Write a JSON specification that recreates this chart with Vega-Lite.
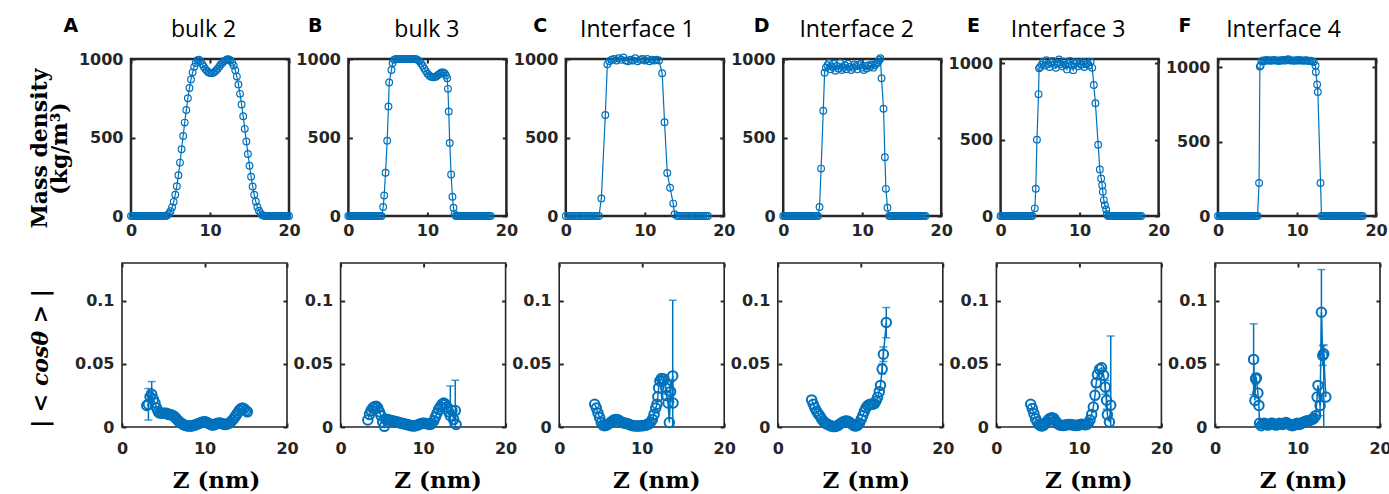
{
"$schema": "https://vega.github.io/schema/vega-lite/v6.json",
"padding": {"left": 26, "top": 14, "right": 0, "bottom": 0},
"datasets": {
"tA": [{"z":0,"v":0},{"z":0.2,"v":0},{"z":0.4,"v":0},{"z":0.6,"v":0},{"z":0.8,"v":0},{"z":1,"v":0},{"z":1.2,"v":0},{"z":1.4,"v":0},{"z":1.6,"v":0},{"z":1.8,"v":0},{"z":2,"v":0},{"z":2.2,"v":0},{"z":2.4,"v":0},{"z":2.6,"v":0},{"z":2.8,"v":0},{"z":3,"v":0},{"z":3.2,"v":0},{"z":3.4,"v":0},{"z":3.6,"v":0},{"z":3.8,"v":0},{"z":4,"v":0},{"z":4.2,"v":0},{"z":4.4,"v":0},{"z":4.6,"v":5},{"z":4.8,"v":15},{"z":5,"v":30},{"z":5.2,"v":55},{"z":5.4,"v":90},{"z":5.6,"v":135},{"z":5.8,"v":190},{"z":6,"v":260},{"z":6.2,"v":340},{"z":6.4,"v":425},{"z":6.6,"v":510},{"z":6.8,"v":595},{"z":7,"v":675},{"z":7.2,"v":750},{"z":7.4,"v":815},{"z":7.6,"v":870},{"z":7.8,"v":915},{"z":8,"v":950},{"z":8.2,"v":975},{"z":8.4,"v":992},{"z":8.6,"v":995},{"z":8.8,"v":985},{"z":9,"v":968},{"z":9.2,"v":952},{"z":9.4,"v":937},{"z":9.6,"v":925},{"z":9.8,"v":916},{"z":10,"v":911},{"z":10.2,"v":910},{"z":10.4,"v":912},{"z":10.6,"v":918},{"z":10.8,"v":928},{"z":11,"v":940},{"z":11.2,"v":954},{"z":11.4,"v":967},{"z":11.6,"v":978},{"z":11.8,"v":987},{"z":12,"v":993},{"z":12.2,"v":998},{"z":12.4,"v":997},{"z":12.6,"v":990},{"z":12.8,"v":978},{"z":13,"v":958},{"z":13.2,"v":928},{"z":13.4,"v":888},{"z":13.6,"v":838},{"z":13.8,"v":778},{"z":14,"v":710},{"z":14.2,"v":635},{"z":14.4,"v":555},{"z":14.6,"v":475},{"z":14.8,"v":395},{"z":15,"v":320},{"z":15.2,"v":250},{"z":15.4,"v":188},{"z":15.6,"v":135},{"z":15.8,"v":92},{"z":16,"v":58},{"z":16.2,"v":33},{"z":16.4,"v":17},{"z":16.6,"v":7},{"z":16.8,"v":2},{"z":17,"v":0},{"z":17.2,"v":0},{"z":17.4,"v":0},{"z":17.6,"v":0},{"z":17.8,"v":0},{"z":18,"v":0},{"z":18.2,"v":0},{"z":18.4,"v":0},{"z":18.6,"v":0},{"z":18.8,"v":0},{"z":19,"v":0},{"z":19.2,"v":0},{"z":19.4,"v":0},{"z":19.6,"v":0},{"z":19.8,"v":0},{"z":20,"v":0}],
"tB": [{"z":0,"v":0},{"z":0.2,"v":0},{"z":0.4,"v":0},{"z":0.6,"v":0},{"z":0.8,"v":0},{"z":1,"v":0},{"z":1.2,"v":0},{"z":1.4,"v":0},{"z":1.6,"v":0},{"z":1.8,"v":0},{"z":2,"v":0},{"z":2.2,"v":0},{"z":2.4,"v":0},{"z":2.6,"v":0},{"z":2.8,"v":0},{"z":3,"v":0},{"z":3.2,"v":0},{"z":3.4,"v":0},{"z":3.6,"v":0},{"z":3.8,"v":0},{"z":4,"v":0},{"z":4.2,"v":0},{"z":4.4,"v":57},{"z":4.53,"v":131},{"z":4.7,"v":275},{"z":4.91,"v":480},{"z":5.07,"v":698},{"z":5.16,"v":850},{"z":5.45,"v":930},{"z":5.6,"v":975},{"z":5.8,"v":995},{"z":6,"v":1000},{"z":6.2,"v":1000},{"z":6.4,"v":1000},{"z":6.6,"v":1000},{"z":6.8,"v":1000},{"z":7,"v":1000},{"z":7.2,"v":1000},{"z":7.4,"v":1000},{"z":7.6,"v":1000},{"z":7.8,"v":1000},{"z":8,"v":1000},{"z":8.2,"v":1000},{"z":8.4,"v":1000},{"z":8.6,"v":998},{"z":8.8,"v":993},{"z":9,"v":985},{"z":9.2,"v":972},{"z":9.4,"v":957},{"z":9.6,"v":940},{"z":9.8,"v":923},{"z":10,"v":908},{"z":10.2,"v":897},{"z":10.4,"v":889},{"z":10.6,"v":885},{"z":10.8,"v":884},{"z":11,"v":886},{"z":11.2,"v":892},{"z":11.4,"v":900},{"z":11.6,"v":908},{"z":11.8,"v":914},{"z":12,"v":915},{"z":12.2,"v":908},{"z":12.35,"v":895},{"z":12.5,"v":877},{"z":12.6,"v":810},{"z":12.7,"v":666},{"z":12.83,"v":465},{"z":13,"v":264},{"z":13.17,"v":123},{"z":13.3,"v":53},{"z":13.45,"v":12},{"z":13.6,"v":0},{"z":13.8,"v":0},{"z":14,"v":0},{"z":14.2,"v":0},{"z":14.4,"v":0},{"z":14.6,"v":0},{"z":14.8,"v":0},{"z":15,"v":0},{"z":15.2,"v":0},{"z":15.4,"v":0},{"z":15.6,"v":0},{"z":15.8,"v":0},{"z":16,"v":0},{"z":16.2,"v":0},{"z":16.4,"v":0},{"z":16.6,"v":0},{"z":16.8,"v":0},{"z":17,"v":0},{"z":17.2,"v":0},{"z":17.4,"v":0},{"z":17.6,"v":0},{"z":17.8,"v":0},{"z":18,"v":0}],
"tC": [{"z":0,"v":0},{"z":0.3,"v":0},{"z":0.6,"v":0},{"z":0.9,"v":0},{"z":1.2,"v":0},{"z":1.5,"v":0},{"z":1.8,"v":0},{"z":2.1,"v":0},{"z":2.4,"v":0},{"z":2.7,"v":0},{"z":3,"v":0},{"z":3.3,"v":0},{"z":3.6,"v":0},{"z":3.9,"v":0},{"z":4.2,"v":0},{"z":4.5,"v":112},{"z":5,"v":643},{"z":5.26,"v":966},{"z":5.5,"v":985},{"z":5.8,"v":995},{"z":6.1,"v":1000},{"z":6.4,"v":990},{"z":6.7,"v":1005},{"z":7,"v":995},{"z":7.3,"v":1010},{"z":7.6,"v":990},{"z":7.9,"v":985},{"z":8.2,"v":995},{"z":8.5,"v":990},{"z":8.8,"v":1005},{"z":9.1,"v":985},{"z":9.4,"v":995},{"z":9.7,"v":1000},{"z":10,"v":990},{"z":10.3,"v":1000},{"z":10.6,"v":985},{"z":10.9,"v":995},{"z":11.2,"v":990},{"z":11.5,"v":995},{"z":11.8,"v":990},{"z":12.2,"v":909},{"z":12.5,"v":597},{"z":12.84,"v":274},{"z":13.2,"v":180},{"z":13.6,"v":79},{"z":13.77,"v":11},{"z":14.1,"v":0},{"z":14.4,"v":0},{"z":14.7,"v":0},{"z":15,"v":0},{"z":15.3,"v":0},{"z":15.6,"v":0},{"z":15.9,"v":0},{"z":16.2,"v":0},{"z":16.5,"v":0},{"z":16.8,"v":0},{"z":17.1,"v":0},{"z":17.4,"v":0},{"z":17.7,"v":0},{"z":18,"v":0}],
"tD": [{"z":0,"v":0},{"z":0.2,"v":0},{"z":0.4,"v":0},{"z":0.6,"v":0},{"z":0.8,"v":0},{"z":1,"v":0},{"z":1.2,"v":0},{"z":1.4,"v":0},{"z":1.6,"v":0},{"z":1.8,"v":0},{"z":2,"v":0},{"z":2.2,"v":0},{"z":2.4,"v":0},{"z":2.6,"v":0},{"z":2.8,"v":0},{"z":3,"v":0},{"z":3.2,"v":0},{"z":3.4,"v":0},{"z":3.6,"v":0},{"z":3.8,"v":0},{"z":4,"v":0},{"z":4.2,"v":0},{"z":4.4,"v":0},{"z":4.6,"v":57},{"z":4.8,"v":302},{"z":5.07,"v":670},{"z":5.24,"v":913},{"z":5.4,"v":945},{"z":5.6,"v":960},{"z":5.8,"v":975},{"z":6,"v":935},{"z":6.2,"v":950},{"z":6.4,"v":970},{"z":6.6,"v":925},{"z":6.8,"v":955},{"z":7,"v":940},{"z":7.2,"v":975},{"z":7.4,"v":930},{"z":7.6,"v":945},{"z":7.8,"v":960},{"z":8,"v":935},{"z":8.2,"v":970},{"z":8.4,"v":950},{"z":8.6,"v":930},{"z":8.8,"v":945},{"z":9,"v":965},{"z":9.2,"v":955},{"z":9.4,"v":935},{"z":9.6,"v":960},{"z":9.8,"v":970},{"z":10,"v":945},{"z":10.2,"v":930},{"z":10.4,"v":955},{"z":10.6,"v":940},{"z":10.8,"v":960},{"z":11,"v":950},{"z":11.2,"v":965},{"z":11.4,"v":945},{"z":11.6,"v":960},{"z":11.8,"v":970},{"z":12,"v":980},{"z":12.2,"v":995},{"z":12.3,"v":1005},{"z":12.45,"v":877},{"z":12.7,"v":683},{"z":12.87,"v":374},{"z":13,"v":173},{"z":13.2,"v":53},{"z":13.4,"v":0},{"z":13.6,"v":0},{"z":13.8,"v":0},{"z":14,"v":0},{"z":14.2,"v":0},{"z":14.4,"v":0},{"z":14.6,"v":0},{"z":14.8,"v":0},{"z":15,"v":0},{"z":15.2,"v":0},{"z":15.4,"v":0},{"z":15.6,"v":0},{"z":15.8,"v":0},{"z":16,"v":0},{"z":16.2,"v":0},{"z":16.4,"v":0},{"z":16.6,"v":0},{"z":16.8,"v":0},{"z":17,"v":0},{"z":17.2,"v":0},{"z":17.4,"v":0},{"z":17.6,"v":0},{"z":17.8,"v":0},{"z":18,"v":0}],
"tE": [{"z":0,"v":0},{"z":0.2,"v":0},{"z":0.4,"v":0},{"z":0.6,"v":0},{"z":0.8,"v":0},{"z":1,"v":0},{"z":1.2,"v":0},{"z":1.4,"v":0},{"z":1.6,"v":0},{"z":1.8,"v":0},{"z":2,"v":0},{"z":2.2,"v":0},{"z":2.4,"v":0},{"z":2.6,"v":0},{"z":2.8,"v":0},{"z":3,"v":0},{"z":3.2,"v":0},{"z":3.4,"v":0},{"z":3.6,"v":0},{"z":3.8,"v":0},{"z":4,"v":0},{"z":4.33,"v":50},{"z":4.45,"v":178},{"z":4.6,"v":500},{"z":4.8,"v":798},{"z":4.87,"v":967},{"z":5,"v":975},{"z":5.2,"v":990},{"z":5.4,"v":1010},{"z":5.6,"v":985},{"z":5.8,"v":1020},{"z":6,"v":995},{"z":6.2,"v":975},{"z":6.4,"v":1005},{"z":6.6,"v":1015},{"z":6.8,"v":990},{"z":7,"v":970},{"z":7.2,"v":1000},{"z":7.4,"v":1025},{"z":7.6,"v":995},{"z":7.8,"v":980},{"z":8,"v":1010},{"z":8.2,"v":990},{"z":8.4,"v":960},{"z":8.6,"v":1000},{"z":8.8,"v":1015},{"z":9,"v":985},{"z":9.2,"v":955},{"z":9.4,"v":995},{"z":9.6,"v":1005},{"z":9.8,"v":980},{"z":10,"v":1000},{"z":10.2,"v":990},{"z":10.4,"v":1010},{"z":10.6,"v":975},{"z":10.8,"v":995},{"z":11,"v":1000},{"z":11.2,"v":985},{"z":11.4,"v":1010},{"z":11.6,"v":970},{"z":11.8,"v":858},{"z":12,"v":739},{"z":12.35,"v":467},{"z":12.56,"v":304},{"z":12.73,"v":246},{"z":12.86,"v":202},{"z":12.94,"v":159},{"z":13.07,"v":104},{"z":13.2,"v":70},{"z":13.36,"v":43},{"z":13.45,"v":11},{"z":13.6,"v":0},{"z":13.8,"v":0},{"z":14,"v":0},{"z":14.2,"v":0},{"z":14.4,"v":0},{"z":14.6,"v":0},{"z":14.8,"v":0},{"z":15,"v":0},{"z":15.2,"v":0},{"z":15.4,"v":0},{"z":15.6,"v":0},{"z":15.8,"v":0},{"z":16,"v":0},{"z":16.2,"v":0},{"z":16.4,"v":0},{"z":16.6,"v":0},{"z":16.8,"v":0},{"z":17,"v":0},{"z":17.2,"v":0},{"z":17.4,"v":0},{"z":17.6,"v":0},{"z":17.8,"v":0}],
"tF": [{"z":0,"v":0},{"z":0.2,"v":0},{"z":0.4,"v":0},{"z":0.6,"v":0},{"z":0.8,"v":0},{"z":1,"v":0},{"z":1.2,"v":0},{"z":1.4,"v":0},{"z":1.6,"v":0},{"z":1.8,"v":0},{"z":2,"v":0},{"z":2.2,"v":0},{"z":2.4,"v":0},{"z":2.6,"v":0},{"z":2.8,"v":0},{"z":3,"v":0},{"z":3.2,"v":0},{"z":3.4,"v":0},{"z":3.6,"v":0},{"z":3.8,"v":0},{"z":4,"v":0},{"z":4.2,"v":0},{"z":4.4,"v":0},{"z":4.6,"v":0},{"z":4.8,"v":0},{"z":5,"v":0},{"z":5.2,"v":222},{"z":5.3,"v":1004},{"z":5.4,"v":1011},{"z":5.5,"v":1040},{"z":5.7,"v":1046},{"z":5.9,"v":1042},{"z":6.1,"v":1048},{"z":6.3,"v":1044},{"z":6.5,"v":1047},{"z":6.7,"v":1043},{"z":6.9,"v":1046},{"z":7.1,"v":1049},{"z":7.3,"v":1044},{"z":7.5,"v":1046},{"z":7.7,"v":1042},{"z":7.9,"v":1047},{"z":8.1,"v":1045},{"z":8.3,"v":1048},{"z":8.5,"v":1044},{"z":8.7,"v":1050},{"z":8.9,"v":1053},{"z":9.1,"v":1047},{"z":9.3,"v":1044},{"z":9.5,"v":1046},{"z":9.7,"v":1043},{"z":9.9,"v":1047},{"z":10.1,"v":1045},{"z":10.3,"v":1048},{"z":10.5,"v":1044},{"z":10.7,"v":1046},{"z":10.9,"v":1043},{"z":11.1,"v":1047},{"z":11.3,"v":1045},{"z":11.5,"v":1042},{"z":11.7,"v":1044},{"z":11.9,"v":1040},{"z":12.1,"v":1035},{"z":12.34,"v":1011},{"z":12.38,"v":967},{"z":12.55,"v":884},{"z":12.64,"v":833},{"z":12.98,"v":222},{"z":13.1,"v":0},{"z":13.3,"v":0},{"z":13.5,"v":0},{"z":13.7,"v":0},{"z":13.9,"v":0},{"z":14.1,"v":0},{"z":14.3,"v":0},{"z":14.5,"v":0},{"z":14.7,"v":0},{"z":14.9,"v":0},{"z":15.1,"v":0},{"z":15.3,"v":0},{"z":15.5,"v":0},{"z":15.7,"v":0},{"z":15.9,"v":0},{"z":16.1,"v":0},{"z":16.3,"v":0},{"z":16.5,"v":0},{"z":16.7,"v":0},{"z":16.9,"v":0},{"z":17.1,"v":0},{"z":17.3,"v":0},{"z":17.5,"v":0},{"z":17.7,"v":0},{"z":17.9,"v":0},{"z":18.1,"v":0},{"z":18.3,"v":0}],
"cA": [{"z":3,"c":0.017},{"z":3.2,"c":0.018},{"z":3.4,"c":0.024},{"z":3.6,"c":0.026},{"z":3.8,"c":0.022},{"z":4,"c":0.019},{"z":4.2,"c":0.015},{"z":4.4,"c":0.012},{"z":4.6,"c":0.011},{"z":4.8,"c":0.011},{"z":5,"c":0.011},{"z":5.2,"c":0.011},{"z":5.4,"c":0.011},{"z":5.6,"c":0.01},{"z":5.8,"c":0.01},{"z":6,"c":0.0095},{"z":6.2,"c":0.009},{"z":6.4,"c":0.008},{"z":6.6,"c":0.0065},{"z":6.8,"c":0.005},{"z":7,"c":0.004},{"z":7.2,"c":0.003},{"z":7.4,"c":0.002},{"z":7.6,"c":0.0015},{"z":7.8,"c":0.001},{"z":8,"c":0.0008},{"z":8.2,"c":0.0007},{"z":8.4,"c":0.0008},{"z":8.6,"c":0.001},{"z":8.8,"c":0.0015},{"z":9,"c":0.002},{"z":9.2,"c":0.0025},{"z":9.4,"c":0.003},{"z":9.6,"c":0.0035},{"z":9.8,"c":0.004},{"z":10,"c":0.0042},{"z":10.2,"c":0.004},{"z":10.4,"c":0.0032},{"z":10.6,"c":0.0025},{"z":10.8,"c":0.0018},{"z":11,"c":0.0015},{"z":11.2,"c":0.0018},{"z":11.4,"c":0.0025},{"z":11.6,"c":0.003},{"z":11.8,"c":0.0032},{"z":12,"c":0.003},{"z":12.2,"c":0.0025},{"z":12.4,"c":0.002},{"z":12.6,"c":0.002},{"z":12.8,"c":0.0025},{"z":13,"c":0.003},{"z":13.2,"c":0.004},{"z":13.4,"c":0.0055},{"z":13.6,"c":0.007},{"z":13.8,"c":0.009},{"z":14,"c":0.011},{"z":14.2,"c":0.013},{"z":14.4,"c":0.0145},{"z":14.6,"c":0.015},{"z":14.8,"c":0.0145},{"z":15,"c":0.013},{"z":15.2,"c":0.012}],
"eA": [{"z":3.2,"lo":0.0055,"hi":0.0305},{"z":3.4,"lo":0.02,"hi":0.028},{"z":3.6,"lo":0.016,"hi":0.036}],
"cB": [{"z":3.3,"c":0.0055},{"z":3.5,"c":0.01},{"z":3.7,"c":0.013},{"z":3.9,"c":0.015},{"z":4.1,"c":0.016},{"z":4.3,"c":0.0165},{"z":4.5,"c":0.015},{"z":4.7,"c":0.012},{"z":4.9,"c":0.009},{"z":5.1,"c":0.004},{"z":5.3,"c":0.0005},{"z":5.5,"c":0.006},{"z":5.7,"c":0.006},{"z":5.9,"c":0.0055},{"z":6.1,"c":0.005},{"z":6.3,"c":0.005},{"z":6.5,"c":0.0045},{"z":6.7,"c":0.004},{"z":6.9,"c":0.004},{"z":7.1,"c":0.0035},{"z":7.3,"c":0.003},{"z":7.5,"c":0.003},{"z":7.7,"c":0.0025},{"z":7.9,"c":0.002},{"z":8.1,"c":0.002},{"z":8.3,"c":0.0015},{"z":8.5,"c":0.001},{"z":8.7,"c":0.001},{"z":8.9,"c":0.0008},{"z":9.1,"c":0.001},{"z":9.3,"c":0.0015},{"z":9.5,"c":0.002},{"z":9.7,"c":0.0025},{"z":9.9,"c":0.003},{"z":10.1,"c":0.003},{"z":10.3,"c":0.0028},{"z":10.5,"c":0.0025},{"z":10.7,"c":0.0022},{"z":10.9,"c":0.002},{"z":11.1,"c":0.003},{"z":11.3,"c":0.005},{"z":11.5,"c":0.008},{"z":11.7,"c":0.011},{"z":11.9,"c":0.014},{"z":12.1,"c":0.016},{"z":12.3,"c":0.018},{"z":12.5,"c":0.019},{"z":12.7,"c":0.018},{"z":12.9,"c":0.016},{"z":13.1,"c":0.012},{"z":13.3,"c":0.009},{"z":13.5,"c":0.013},{"z":13.7,"c":0.006},{"z":13.9,"c":0.013},{"z":14,"c":0.002}],
"eB": [{"z":13.3,"lo":-0.0145,"hi":0.0325},{"z":13.9,"lo":-0.011,"hi":0.037}],
"cC": [{"z":4.3,"c":0.018},{"z":4.5,"c":0.015},{"z":4.7,"c":0.011},{"z":4.9,"c":0.0075},{"z":5.1,"c":0.0035},{"z":5.3,"c":0.0015},{"z":5.5,"c":0.001},{"z":5.7,"c":0.0015},{"z":5.9,"c":0.002},{"z":6.1,"c":0.003},{"z":6.3,"c":0.004},{"z":6.5,"c":0.005},{"z":6.7,"c":0.0058},{"z":6.9,"c":0.006},{"z":7.1,"c":0.0058},{"z":7.3,"c":0.005},{"z":7.5,"c":0.004},{"z":7.7,"c":0.0035},{"z":7.9,"c":0.003},{"z":8.1,"c":0.003},{"z":8.3,"c":0.0025},{"z":8.5,"c":0.002},{"z":8.7,"c":0.0015},{"z":8.9,"c":0.001},{"z":9.1,"c":0.001},{"z":9.3,"c":0.0008},{"z":9.5,"c":0.0008},{"z":9.7,"c":0.0008},{"z":9.9,"c":0.001},{"z":10.1,"c":0.001},{"z":10.3,"c":0.0012},{"z":10.5,"c":0.0015},{"z":10.7,"c":0.002},{"z":10.9,"c":0.0025},{"z":11.1,"c":0.004},{"z":11.3,"c":0.006},{"z":11.5,"c":0.01},{"z":11.7,"c":0.015},{"z":11.85,"c":0.018},{"z":11.95,"c":0.024},{"z":12.05,"c":0.031},{"z":12.2,"c":0.0365},{"z":12.4,"c":0.0385},{"z":12.55,"c":0.0365},{"z":12.7,"c":0.038},{"z":12.9,"c":0.031},{"z":13,"c":0.025},{"z":13.2,"c":0.019},{"z":13.35,"c":0.0035},{"z":13.5,"c":0.028},{"z":13.76,"c":0.0405},{"z":13.8,"c":0.019}],
"eC": [{"z":12.9,"lo":0.026,"hi":0.036},{"z":13.5,"lo":0.02,"hi":0.036},{"z":13.76,"lo":-0.0195,"hi":0.1005}],
"cD": [{"z":4.1,"c":0.0215},{"z":4.3,"c":0.018},{"z":4.5,"c":0.015},{"z":4.7,"c":0.0125},{"z":4.9,"c":0.0105},{"z":5.1,"c":0.0087},{"z":5.3,"c":0.0065},{"z":5.5,"c":0.0048},{"z":5.7,"c":0.0035},{"z":5.9,"c":0.0025},{"z":6.1,"c":0.002},{"z":6.3,"c":0.0012},{"z":6.5,"c":0.0007},{"z":6.7,"c":0.0004},{"z":6.9,"c":0.0003},{"z":7.1,"c":0.0006},{"z":7.3,"c":0.0013},{"z":7.5,"c":0.0022},{"z":7.7,"c":0.0032},{"z":7.9,"c":0.004},{"z":8.1,"c":0.0046},{"z":8.3,"c":0.0048},{"z":8.5,"c":0.0045},{"z":8.7,"c":0.0038},{"z":8.9,"c":0.0028},{"z":9.1,"c":0.0017},{"z":9.3,"c":0.0009},{"z":9.5,"c":0.0008},{"z":9.7,"c":0.0015},{"z":9.9,"c":0.003},{"z":10.1,"c":0.006},{"z":10.3,"c":0.009},{"z":10.5,"c":0.0125},{"z":10.7,"c":0.0153},{"z":10.9,"c":0.017},{"z":11.1,"c":0.0178},{"z":11.3,"c":0.018},{"z":11.5,"c":0.018},{"z":11.7,"c":0.0185},{"z":11.9,"c":0.0205},{"z":12.1,"c":0.0235},{"z":12.3,"c":0.028},{"z":12.45,"c":0.033},{"z":12.65,"c":0.046},{"z":12.8,"c":0.0577},{"z":13.15,"c":0.0828}],
"eD": [{"z":12.65,"lo":0.042,"hi":0.05},{"z":12.8,"lo":0.052,"hi":0.0634},{"z":13.15,"lo":0.0708,"hi":0.0948}],
"cE": [{"z":4.15,"c":0.018},{"z":4.35,"c":0.0146},{"z":4.55,"c":0.0106},{"z":4.75,"c":0.0066},{"z":4.95,"c":0.004},{"z":5.15,"c":0.002},{"z":5.35,"c":0.001},{"z":5.55,"c":0.0008},{"z":5.75,"c":0.0015},{"z":5.95,"c":0.003},{"z":6.15,"c":0.0045},{"z":6.35,"c":0.006},{"z":6.55,"c":0.007},{"z":6.75,"c":0.0074},{"z":6.95,"c":0.0068},{"z":7.15,"c":0.005},{"z":7.35,"c":0.003},{"z":7.55,"c":0.002},{"z":7.75,"c":0.0015},{"z":7.95,"c":0.0012},{"z":8.15,"c":0.0012},{"z":8.35,"c":0.0015},{"z":8.55,"c":0.0018},{"z":8.75,"c":0.002},{"z":8.95,"c":0.002},{"z":9.15,"c":0.0018},{"z":9.35,"c":0.0015},{"z":9.55,"c":0.0012},{"z":9.75,"c":0.0012},{"z":9.95,"c":0.0015},{"z":10.15,"c":0.002},{"z":10.35,"c":0.0022},{"z":10.55,"c":0.002},{"z":10.75,"c":0.0018},{"z":10.95,"c":0.002},{"z":11.15,"c":0.003},{"z":11.35,"c":0.0055},{"z":11.55,"c":0.01},{"z":11.75,"c":0.0159},{"z":11.95,"c":0.0251},{"z":12.1,"c":0.035},{"z":12.25,"c":0.0415},{"z":12.5,"c":0.0458},{"z":12.75,"c":0.047},{"z":13,"c":0.041},{"z":13.2,"c":0.0317},{"z":13.35,"c":0.0212},{"z":13.45,"c":0.0098},{"z":13.7,"c":0.004},{"z":13.86,"c":0.0172}],
"eE": [{"z":13.2,"lo":0.026,"hi":0.037},{"z":13.35,"lo":0.014,"hi":0.028},{"z":13.86,"lo":-0.038,"hi":0.0722}],
"cF": [{"z":4.68,"c":0.0536},{"z":4.84,"c":0.021},{"z":4.92,"c":0.0383},{"z":5.02,"c":0.0388},{"z":5.2,"c":0.027},{"z":5.32,"c":0.0171},{"z":5.4,"c":0.003},{"z":5.6,"c":0.001},{"z":5.8,"c":0.0025},{"z":6,"c":0.003},{"z":6.2,"c":0.002},{"z":6.4,"c":0.0015},{"z":6.6,"c":0.002},{"z":6.8,"c":0.003},{"z":7,"c":0.003},{"z":7.2,"c":0.002},{"z":7.4,"c":0.0015},{"z":7.6,"c":0.002},{"z":7.8,"c":0.003},{"z":8,"c":0.0025},{"z":8.2,"c":0.002},{"z":8.4,"c":0.003},{"z":8.6,"c":0.0035},{"z":8.8,"c":0.003},{"z":9,"c":0.002},{"z":9.2,"c":0.0015},{"z":9.4,"c":0.001},{"z":9.6,"c":0.0015},{"z":9.8,"c":0.0025},{"z":10,"c":0.003},{"z":10.2,"c":0.002},{"z":10.4,"c":0.0025},{"z":10.6,"c":0.0035},{"z":10.8,"c":0.004},{"z":11,"c":0.0045},{"z":11.2,"c":0.005},{"z":11.4,"c":0.005},{"z":11.6,"c":0.0055},{"z":11.8,"c":0.006},{"z":12,"c":0.007},{"z":12.2,"c":0.009},{"z":12.38,"c":0.0237},{"z":12.48,"c":0.033},{"z":12.74,"c":0.017},{"z":12.9,"c":0.091},{"z":13.06,"c":0.0567},{"z":13.18,"c":0.058},{"z":13.43,"c":0.0237}],
"eF": [{"z":4.68,"lo":0.0256,"hi":0.0818},{"z":4.92,"lo":0.0343,"hi":0.0423},{"z":12.74,"lo":0.009,"hi":0.025},{"z":12.9,"lo":0.057,"hi":0.1248},{"z":13.06,"lo":0.0488,"hi":0.0646},{"z":13.18,"lo":-0.01,"hi":0.065}]
},
"columns": 1,
"align": "none",
"spacing": 21,
"concat": [
{"hconcat": [
 {"width": 1, "height": 1, "view": {"stroke": null}, "data": {"values": [{"z": 0}]}, "mark": {"type": "point", "opacity": 0}, "encoding": {}},
 {"hconcat": [
 {"width": 158, "height": 157, "view": {"strokeWidth": 2.5}, "data": {"name": "tA"},
  "layer": [
   {"mark": {"type": "line", "color": "#0072BD", "strokeWidth": 1.2},
    "encoding": {"x": {"field": "z", "type": "quantitative", "scale": {"domain": [0, 20], "nice": false, "zero": false}, "axis": {"orient": "bottom", "values": [0, 10, 20], "title": null, "labelPadding": 10}},
                 "y": {"field": "v", "type": "quantitative", "scale": {"domain": [0, 1000], "nice": false}, "axis": {"orient": "left", "values": [0, 500, 1000], "format": "d", "labelPadding": 12, "title": ["Mass density", "(kg/m³)"], "titleFont": "DejaVu Serif", "titleFontSize": 22, "titleFontWeight": "bold", "titleAngle": -90, "titleX": -85, "titleY": 89, "titleAlign": "center", "titleBaseline": "alphabetic", "titleLineHeight": 20}}}},
   {"mark": {"type": "point", "shape": "circle", "filled": false, "color": "#0072BD", "size": 45, "strokeWidth": 1.2, "opacity": 1},
    "encoding": {"x": {"field": "z", "type": "quantitative", "axis": {"orient": "top", "values": [0, 10, 20], "labels": false, "title": "bulk 2", "titleX": 72}},
                 "y": {"field": "v", "type": "quantitative", "axis": {"orient": "right", "values": [0, 500, 1000], "labels": false, "title": "A", "titleFont": "DejaVu Sans", "titleFontSize": 19, "titleFontWeight": "bold", "titleAngle": 0, "titleX": -226, "titleY": -28, "titleAlign": "left", "titleBaseline": "alphabetic"}}}}
  ],
  "resolve": {"axis": {"x": "independent", "y": "independent"}}},
 {"width": 158, "height": 157, "view": {"strokeWidth": 2.5}, "data": {"name": "tB"},
  "layer": [
   {"mark": {"type": "line", "color": "#0072BD", "strokeWidth": 1.2},
    "encoding": {"x": {"field": "z", "type": "quantitative", "scale": {"domain": [0, 20], "nice": false, "zero": false}, "axis": {"orient": "bottom", "values": [0, 10, 20], "title": null, "labelPadding": 10}},
                 "y": {"field": "v", "type": "quantitative", "scale": {"domain": [0, 1000], "nice": false}, "axis": {"orient": "left", "values": [0, 500, 1000], "format": "d", "labelPadding": 12, "title": "B", "titleFont": "DejaVu Sans", "titleFontSize": 19, "titleFontWeight": "bold", "titleAngle": 0, "titleX": -41, "titleY": -28, "titleAlign": "left", "titleBaseline": "alphabetic"}}}},
   {"mark": {"type": "point", "shape": "circle", "filled": false, "color": "#0072BD", "size": 45, "strokeWidth": 1.2, "opacity": 1},
    "encoding": {"x": {"field": "z", "type": "quantitative", "axis": {"orient": "top", "values": [0, 10, 20], "labels": false, "title": "bulk 3", "titleX": 78}},
                 "y": {"field": "v", "type": "quantitative", "axis": {"orient": "right", "values": [0, 500, 1000], "labels": false, "title": null}}}}
  ],
  "resolve": {"axis": {"x": "independent", "y": "independent"}}},
 {"width": 158, "height": 157, "view": {"strokeWidth": 2.5}, "data": {"name": "tC"},
  "layer": [
   {"mark": {"type": "line", "color": "#0072BD", "strokeWidth": 1.2},
    "encoding": {"x": {"field": "z", "type": "quantitative", "scale": {"domain": [0, 20], "nice": false, "zero": false}, "axis": {"orient": "bottom", "values": [0, 10, 20], "title": null, "labelPadding": 10}},
                 "y": {"field": "v", "type": "quantitative", "scale": {"domain": [0, 1000], "nice": false}, "axis": {"orient": "left", "values": [0, 500, 1000], "format": "d", "labelPadding": 12, "title": "C", "titleFont": "DejaVu Sans", "titleFontSize": 19, "titleFontWeight": "bold", "titleAngle": 0, "titleX": -33, "titleY": -28, "titleAlign": "left", "titleBaseline": "alphabetic"}}}},
   {"mark": {"type": "point", "shape": "circle", "filled": false, "color": "#0072BD", "size": 45, "strokeWidth": 1.2, "opacity": 1},
    "encoding": {"x": {"field": "z", "type": "quantitative", "axis": {"orient": "top", "values": [0, 10, 20], "labels": false, "title": "Interface 1", "titleX": 71}},
                 "y": {"field": "v", "type": "quantitative", "axis": {"orient": "right", "values": [0, 500, 1000], "labels": false, "title": null}}}}
  ],
  "resolve": {"axis": {"x": "independent", "y": "independent"}}},
 {"width": 158, "height": 157, "view": {"strokeWidth": 2.5}, "data": {"name": "tD"},
  "layer": [
   {"mark": {"type": "line", "color": "#0072BD", "strokeWidth": 1.2},
    "encoding": {"x": {"field": "z", "type": "quantitative", "scale": {"domain": [0, 20], "nice": false, "zero": false}, "axis": {"orient": "bottom", "values": [0, 10, 20], "title": null, "labelPadding": 10}},
                 "y": {"field": "v", "type": "quantitative", "scale": {"domain": [0, 1000], "nice": false}, "axis": {"orient": "left", "values": [0, 500, 1000], "format": "d", "labelPadding": 12, "title": "D", "titleFont": "DejaVu Sans", "titleFontSize": 19, "titleFontWeight": "bold", "titleAngle": 0, "titleX": -30, "titleY": -28, "titleAlign": "left", "titleBaseline": "alphabetic"}}}},
   {"mark": {"type": "point", "shape": "circle", "filled": false, "color": "#0072BD", "size": 45, "strokeWidth": 1.2, "opacity": 1},
    "encoding": {"x": {"field": "z", "type": "quantitative", "axis": {"orient": "top", "values": [0, 10, 20], "labels": false, "title": "Interface 2", "titleX": 73}},
                 "y": {"field": "v", "type": "quantitative", "axis": {"orient": "right", "values": [0, 500, 1000], "labels": false, "title": null}}}}
  ],
  "resolve": {"axis": {"x": "independent", "y": "independent"}}},
 {"width": 158, "height": 157, "view": {"strokeWidth": 2.5}, "data": {"name": "tE"},
  "layer": [
   {"mark": {"type": "line", "color": "#0072BD", "strokeWidth": 1.2},
    "encoding": {"x": {"field": "z", "type": "quantitative", "scale": {"domain": [0, 20], "nice": false, "zero": false}, "axis": {"orient": "bottom", "values": [0, 10, 20], "title": null, "labelPadding": 10}},
                 "y": {"field": "v", "type": "quantitative", "scale": {"domain": [0, 1028], "nice": false}, "axis": {"orient": "left", "values": [0, 500, 1000], "format": "d", "labelPadding": 12, "title": "E", "titleFont": "DejaVu Sans", "titleFontSize": 19, "titleFontWeight": "bold", "titleAngle": 0, "titleX": -34, "titleY": -28, "titleAlign": "left", "titleBaseline": "alphabetic"}}}},
   {"mark": {"type": "point", "shape": "circle", "filled": false, "color": "#0072BD", "size": 45, "strokeWidth": 1.2, "opacity": 1},
    "encoding": {"x": {"field": "z", "type": "quantitative", "axis": {"orient": "top", "values": [0, 10, 20], "labels": false, "title": "Interface 3", "titleX": 67}},
                 "y": {"field": "v", "type": "quantitative", "axis": {"orient": "right", "values": [0, 500, 1000], "labels": false, "title": null}}}}
  ],
  "resolve": {"axis": {"x": "independent", "y": "independent"}}},
 {"width": 158, "height": 157, "view": {"strokeWidth": 2.5}, "data": {"name": "tF"},
  "layer": [
   {"mark": {"type": "line", "color": "#0072BD", "strokeWidth": 1.2},
    "encoding": {"x": {"field": "z", "type": "quantitative", "scale": {"domain": [0, 20], "nice": false, "zero": false}, "axis": {"orient": "bottom", "values": [0, 10, 20], "title": null, "labelPadding": 10}},
                 "y": {"field": "v", "type": "quantitative", "scale": {"domain": [0, 1055], "nice": false}, "axis": {"orient": "left", "values": [0, 500, 1000], "format": "d", "labelPadding": 12, "title": "F", "titleFont": "DejaVu Sans", "titleFontSize": 19, "titleFontWeight": "bold", "titleAngle": 0, "titleX": -40, "titleY": -28, "titleAlign": "left", "titleBaseline": "alphabetic"}}}},
   {"mark": {"type": "point", "shape": "circle", "filled": false, "color": "#0072BD", "size": 45, "strokeWidth": 1.2, "opacity": 1},
    "encoding": {"x": {"field": "z", "type": "quantitative", "axis": {"orient": "top", "values": [0, 10, 20], "labels": false, "title": "Interface 4", "titleX": 65}},
                 "y": {"field": "v", "type": "quantitative", "axis": {"orient": "right", "values": [0, 500, 1000], "labels": false, "title": null}}}}
  ],
  "resolve": {"axis": {"x": "independent", "y": "independent"}}}
 ], "spacing": 59.4, "bounds": "flush"}
 ], "spacing": 8, "bounds": "flush"},
{"hconcat": [
 {"width": 165, "height": 164, "view": {"strokeWidth": 1.6},
  "layer": [
   {"data": {"name": "cA"}, "mark": {"type": "line", "color": "#0072BD", "strokeWidth": 1.5},
    "encoding": {"x": {"field": "z", "type": "quantitative", "scale": {"domain": [0, 20], "nice": false, "zero": false}, "axis": {"orient": "bottom", "values": [0, 10, 20], "labelPadding": 17, "title": "Z (nm)", "titleX": 94}},
                 "y": {"field": "c", "type": "quantitative", "scale": {"domain": [0, 0.13], "nice": false}, "axis": {"orient": "left", "values": [0, 0.05, 0.1], "format": ".2~f", "labelPadding": 12, "title": "| < cosθ > |", "titleFont": "DejaVu Serif", "titleFontSize": 22, "titleFontWeight": "bold", "titleFontStyle": "italic", "titleAngle": -90, "titleX": -75, "titleY": 95, "titleAlign": "center", "titleBaseline": "alphabetic"}}}},
   {"data": {"name": "eA"}, "mark": {"type": "errorbar", "ticks": {"size": 8}, "thickness": 1.5, "color": "#0072BD", "clip": true},
    "encoding": {"x": {"field": "z", "type": "quantitative", "axis": null}, "y": {"field": "lo", "type": "quantitative", "axis": null}, "y2": {"field": "hi"}}},
   {"data": {"name": "cA"}, "mark": {"type": "point", "shape": "circle", "filled": false, "color": "#0072BD", "size": 90, "strokeWidth": 2, "opacity": 1},
    "encoding": {"x": {"field": "z", "type": "quantitative", "axis": {"orient": "top", "values": [0, 10, 20], "labels": false, "title": null}},
                 "y": {"field": "c", "type": "quantitative", "axis": {"orient": "right", "values": [0, 0.05, 0.1], "labels": false, "title": null}}}}
  ],
  "resolve": {"axis": {"x": "independent", "y": "independent"}}},
 {"width": 165, "height": 164, "view": {"strokeWidth": 1.6},
  "layer": [
   {"data": {"name": "cB"}, "mark": {"type": "line", "color": "#0072BD", "strokeWidth": 1.5},
    "encoding": {"x": {"field": "z", "type": "quantitative", "scale": {"domain": [0, 20], "nice": false, "zero": false}, "axis": {"orient": "bottom", "values": [0, 10, 20], "labelPadding": 17, "title": "Z (nm)", "titleX": 97}},
                 "y": {"field": "c", "type": "quantitative", "scale": {"domain": [0, 0.13], "nice": false}, "axis": {"orient": "left", "values": [0, 0.05, 0.1], "format": ".2~f", "labelPadding": 12, "title": null}}}},
   {"data": {"name": "eB"}, "mark": {"type": "errorbar", "ticks": {"size": 8}, "thickness": 1.5, "color": "#0072BD", "clip": true},
    "encoding": {"x": {"field": "z", "type": "quantitative", "axis": null}, "y": {"field": "lo", "type": "quantitative", "axis": null}, "y2": {"field": "hi"}}},
   {"data": {"name": "cB"}, "mark": {"type": "point", "shape": "circle", "filled": false, "color": "#0072BD", "size": 90, "strokeWidth": 2, "opacity": 1},
    "encoding": {"x": {"field": "z", "type": "quantitative", "axis": {"orient": "top", "values": [0, 10, 20], "labels": false, "title": null}},
                 "y": {"field": "c", "type": "quantitative", "axis": {"orient": "right", "values": [0, 0.05, 0.1], "labels": false, "title": null}}}}
  ],
  "resolve": {"axis": {"x": "independent", "y": "independent"}}},
 {"width": 165, "height": 164, "view": {"strokeWidth": 1.6},
  "layer": [
   {"data": {"name": "cC"}, "mark": {"type": "line", "color": "#0072BD", "strokeWidth": 1.5},
    "encoding": {"x": {"field": "z", "type": "quantitative", "scale": {"domain": [0, 20], "nice": false, "zero": false}, "axis": {"orient": "bottom", "values": [0, 10, 20], "labelPadding": 17, "title": "Z (nm)", "titleX": 97}},
                 "y": {"field": "c", "type": "quantitative", "scale": {"domain": [0, 0.13], "nice": false}, "axis": {"orient": "left", "values": [0, 0.05, 0.1], "format": ".2~f", "labelPadding": 12, "title": null}}}},
   {"data": {"name": "eC"}, "mark": {"type": "errorbar", "ticks": {"size": 8}, "thickness": 1.5, "color": "#0072BD", "clip": true},
    "encoding": {"x": {"field": "z", "type": "quantitative", "axis": null}, "y": {"field": "lo", "type": "quantitative", "axis": null}, "y2": {"field": "hi"}}},
   {"data": {"name": "cC"}, "mark": {"type": "point", "shape": "circle", "filled": false, "color": "#0072BD", "size": 90, "strokeWidth": 2, "opacity": 1},
    "encoding": {"x": {"field": "z", "type": "quantitative", "axis": {"orient": "top", "values": [0, 10, 20], "labels": false, "title": null}},
                 "y": {"field": "c", "type": "quantitative", "axis": {"orient": "right", "values": [0, 0.05, 0.1], "labels": false, "title": null}}}}
  ],
  "resolve": {"axis": {"x": "independent", "y": "independent"}}},
 {"width": 165, "height": 164, "view": {"strokeWidth": 1.6},
  "layer": [
   {"data": {"name": "cD"}, "mark": {"type": "line", "color": "#0072BD", "strokeWidth": 1.5},
    "encoding": {"x": {"field": "z", "type": "quantitative", "scale": {"domain": [0, 20], "nice": false, "zero": false}, "axis": {"orient": "bottom", "values": [0, 10, 20], "labelPadding": 17, "title": "Z (nm)", "titleX": 88}},
                 "y": {"field": "c", "type": "quantitative", "scale": {"domain": [0, 0.13], "nice": false}, "axis": {"orient": "left", "values": [0, 0.05, 0.1], "format": ".2~f", "labelPadding": 12, "title": null}}}},
   {"data": {"name": "eD"}, "mark": {"type": "errorbar", "ticks": {"size": 8}, "thickness": 1.5, "color": "#0072BD", "clip": true},
    "encoding": {"x": {"field": "z", "type": "quantitative", "axis": null}, "y": {"field": "lo", "type": "quantitative", "axis": null}, "y2": {"field": "hi"}}},
   {"data": {"name": "cD"}, "mark": {"type": "point", "shape": "circle", "filled": false, "color": "#0072BD", "size": 90, "strokeWidth": 2, "opacity": 1},
    "encoding": {"x": {"field": "z", "type": "quantitative", "axis": {"orient": "top", "values": [0, 10, 20], "labels": false, "title": null}},
                 "y": {"field": "c", "type": "quantitative", "axis": {"orient": "right", "values": [0, 0.05, 0.1], "labels": false, "title": null}}}}
  ],
  "resolve": {"axis": {"x": "independent", "y": "independent"}}},
 {"width": 165, "height": 164, "view": {"strokeWidth": 1.6},
  "layer": [
   {"data": {"name": "cE"}, "mark": {"type": "line", "color": "#0072BD", "strokeWidth": 1.5},
    "encoding": {"x": {"field": "z", "type": "quantitative", "scale": {"domain": [0, 20], "nice": false, "zero": false}, "axis": {"orient": "bottom", "values": [0, 10, 20], "labelPadding": 17, "title": "Z (nm)", "titleX": 92}},
                 "y": {"field": "c", "type": "quantitative", "scale": {"domain": [0, 0.13], "nice": false}, "axis": {"orient": "left", "values": [0, 0.05, 0.1], "format": ".2~f", "labelPadding": 12, "title": null}}}},
   {"data": {"name": "eE"}, "mark": {"type": "errorbar", "ticks": {"size": 8}, "thickness": 1.5, "color": "#0072BD", "clip": true},
    "encoding": {"x": {"field": "z", "type": "quantitative", "axis": null}, "y": {"field": "lo", "type": "quantitative", "axis": null}, "y2": {"field": "hi"}}},
   {"data": {"name": "cE"}, "mark": {"type": "point", "shape": "circle", "filled": false, "color": "#0072BD", "size": 90, "strokeWidth": 2, "opacity": 1},
    "encoding": {"x": {"field": "z", "type": "quantitative", "axis": {"orient": "top", "values": [0, 10, 20], "labels": false, "title": null}},
                 "y": {"field": "c", "type": "quantitative", "axis": {"orient": "right", "values": [0, 0.05, 0.1], "labels": false, "title": null}}}}
  ],
  "resolve": {"axis": {"x": "independent", "y": "independent"}}},
 {"width": 165, "height": 164, "view": {"strokeWidth": 1.6},
  "layer": [
   {"data": {"name": "cF"}, "mark": {"type": "line", "color": "#0072BD", "strokeWidth": 1.5},
    "encoding": {"x": {"field": "z", "type": "quantitative", "scale": {"domain": [0, 20], "nice": false, "zero": false}, "axis": {"orient": "bottom", "values": [0, 10, 20], "labelPadding": 17, "title": "Z (nm)", "titleX": 88}},
                 "y": {"field": "c", "type": "quantitative", "scale": {"domain": [0, 0.13], "nice": false}, "axis": {"orient": "left", "values": [0, 0.05, 0.1], "format": ".2~f", "labelPadding": 12, "title": null}}}},
   {"data": {"name": "eF"}, "mark": {"type": "errorbar", "ticks": {"size": 8}, "thickness": 1.5, "color": "#0072BD", "clip": true},
    "encoding": {"x": {"field": "z", "type": "quantitative", "axis": null}, "y": {"field": "lo", "type": "quantitative", "axis": null}, "y2": {"field": "hi"}}},
   {"data": {"name": "cF"}, "mark": {"type": "point", "shape": "circle", "filled": false, "color": "#0072BD", "size": 90, "strokeWidth": 2, "opacity": 1},
    "encoding": {"x": {"field": "z", "type": "quantitative", "axis": {"orient": "top", "values": [0, 10, 20], "labels": false, "title": null}},
                 "y": {"field": "c", "type": "quantitative", "axis": {"orient": "right", "values": [0, 0.05, 0.1], "labels": false, "title": null}}}}
  ],
  "resolve": {"axis": {"x": "independent", "y": "independent"}}}
 ], "spacing": 53.6, "bounds": "flush"}
],
"config": {
 "font": "DejaVu Sans",
 "background": "white",
 "view": {"stroke": "#262626"},
 "axis": {"grid": false, "domain": false, "labelFont": "DejaVu Sans", "labelFontWeight": "bold", "labelFontSize": 16, "labelColor": "#262626", "tickColor": "#262626", "tickWidth": 2, "tickSize": -4, "labelFlush": false, "labelOverlap": false, "labelBound": false, "titleColor": "#000000"},
 "axisTop": {"titleFont": "Open Sans", "titleFontSize": 23, "titleFontWeight": "normal", "titleY": -23, "titleAlign": "center", "titleBaseline": "alphabetic", "titleAngle": 0},
 "axisBottom": {"titleFont": "DejaVu Serif", "titleFontSize": 23, "titleFontWeight": "bold", "titleY": 60, "titleAlign": "center", "titleBaseline": "alphabetic"}
}
}
